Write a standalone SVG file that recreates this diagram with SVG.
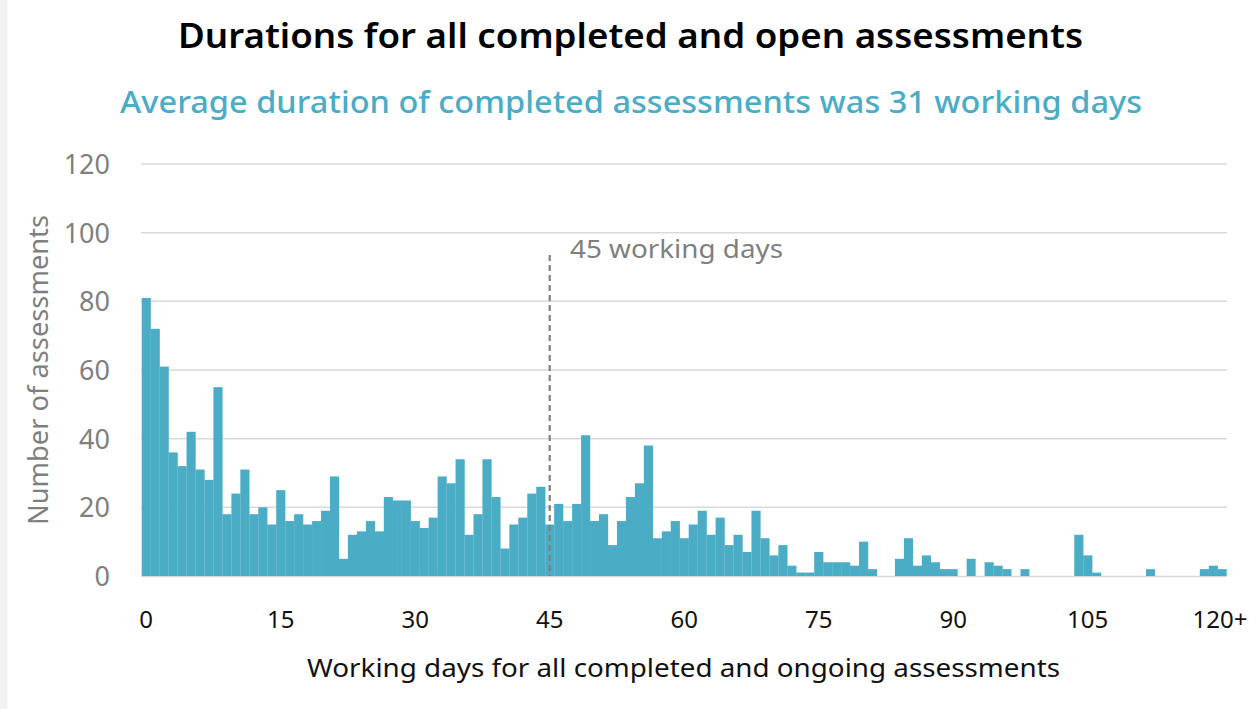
<svg xmlns="http://www.w3.org/2000/svg" width="1256" height="709" viewBox="0 0 1256 709">
<style>
.grid{stroke:#d9d9d9;stroke-width:1.5;fill:none}
.bar{fill:#4bacc6}
.yt{font-family:"Noto Sans","Open Sans","Liberation Sans",sans-serif;font-size:27px;fill:#7f7f7f;text-anchor:end}
.xt{font-family:"Noto Sans","Open Sans","Liberation Sans",sans-serif;font-size:24px;fill:#111;text-anchor:middle}
.title{font-family:"Noto Sans","Open Sans","Liberation Sans",sans-serif;font-size:34px;font-weight:600;fill:#000}
.sub{font-family:"Noto Sans","Open Sans","Liberation Sans",sans-serif;font-size:30px;font-weight:500;fill:#4bacc6}
.axt{font-family:"Noto Sans","Open Sans","Liberation Sans",sans-serif;font-size:25px;fill:#111}
.yaxt{font-family:"Noto Sans","Open Sans","Liberation Sans",sans-serif;font-size:27px;fill:#7f7f7f}
.ann{font-family:"Noto Sans","Open Sans","Liberation Sans",sans-serif;font-size:25px;fill:#7f7f7f}
</style>
<rect x="0" y="0" width="1256" height="709" fill="#ffffff"/>
<rect x="0" y="0" width="7.5" height="709" fill="#f2f2f2"/>
<g id="titles">
<text class="title" x="178" y="48" textLength="905" lengthAdjust="spacingAndGlyphs">Durations for all completed and open assessments</text>
<text class="sub" x="120" y="113" textLength="1022" lengthAdjust="spacingAndGlyphs">Average duration of completed assessments was 31 working days</text>
</g>
<g id="gridlines">
<line class="grid" x1="141" y1="164" x2="1227" y2="164"/>
<line class="grid" x1="141" y1="232.7" x2="1227" y2="232.7"/>
<line class="grid" x1="141" y1="301.3" x2="1227" y2="301.3"/>
<line class="grid" x1="141" y1="370" x2="1227" y2="370"/>
<line class="grid" x1="141" y1="438.7" x2="1227" y2="438.7"/>
<line class="grid" x1="141" y1="507.3" x2="1227" y2="507.3"/>
<line class="grid" x1="141" y1="576.5" x2="1227" y2="576.5"/>
</g>
<g id="y-ticks">
<text class="yt" x="110" y="174">120</text>
<text class="yt" x="110" y="242.7">100</text>
<text class="yt" x="110" y="311.3">80</text>
<text class="yt" x="110" y="380">60</text>
<text class="yt" x="110" y="448.7">40</text>
<text class="yt" x="110" y="517.3">20</text>
<text class="yt" x="110" y="586">0</text>
</g>
<text id="y-title" class="yaxt" transform="translate(48,370) rotate(-90)" text-anchor="middle" textLength="310" lengthAdjust="spacingAndGlyphs">Number of assessments</text>
<g id="bars" transform="translate(141.7,576) scale(8.967,-3.4333)">
<rect class="bar" x="0" y="0" width="1.02" height="81"/>
<rect class="bar" x="1" y="0" width="1.02" height="72"/>
<rect class="bar" x="2" y="0" width="1.02" height="61"/>
<rect class="bar" x="3" y="0" width="1.02" height="36"/>
<rect class="bar" x="4" y="0" width="1.02" height="32"/>
<rect class="bar" x="5" y="0" width="1.02" height="42"/>
<rect class="bar" x="6" y="0" width="1.02" height="31"/>
<rect class="bar" x="7" y="0" width="1.02" height="28"/>
<rect class="bar" x="8" y="0" width="1.02" height="55"/>
<rect class="bar" x="9" y="0" width="1.02" height="18"/>
<rect class="bar" x="10" y="0" width="1.02" height="24"/>
<rect class="bar" x="11" y="0" width="1.02" height="31"/>
<rect class="bar" x="12" y="0" width="1.02" height="18"/>
<rect class="bar" x="13" y="0" width="1.02" height="20"/>
<rect class="bar" x="14" y="0" width="1.02" height="15"/>
<rect class="bar" x="15" y="0" width="1.02" height="25"/>
<rect class="bar" x="16" y="0" width="1.02" height="16"/>
<rect class="bar" x="17" y="0" width="1.02" height="18"/>
<rect class="bar" x="18" y="0" width="1.02" height="15"/>
<rect class="bar" x="19" y="0" width="1.02" height="16"/>
<rect class="bar" x="20" y="0" width="1.02" height="19"/>
<rect class="bar" x="21" y="0" width="1.02" height="29"/>
<rect class="bar" x="22" y="0" width="1.02" height="5"/>
<rect class="bar" x="23" y="0" width="1.02" height="12"/>
<rect class="bar" x="24" y="0" width="1.02" height="13"/>
<rect class="bar" x="25" y="0" width="1.02" height="16"/>
<rect class="bar" x="26" y="0" width="1.02" height="13"/>
<rect class="bar" x="27" y="0" width="1.02" height="23"/>
<rect class="bar" x="28" y="0" width="1.02" height="22"/>
<rect class="bar" x="29" y="0" width="1.02" height="22"/>
<rect class="bar" x="30" y="0" width="1.02" height="16"/>
<rect class="bar" x="31" y="0" width="1.02" height="14"/>
<rect class="bar" x="32" y="0" width="1.02" height="17"/>
<rect class="bar" x="33" y="0" width="1.02" height="29"/>
<rect class="bar" x="34" y="0" width="1.02" height="27"/>
<rect class="bar" x="35" y="0" width="1.02" height="34"/>
<rect class="bar" x="36" y="0" width="1.02" height="12"/>
<rect class="bar" x="37" y="0" width="1.02" height="18"/>
<rect class="bar" x="38" y="0" width="1.02" height="34"/>
<rect class="bar" x="39" y="0" width="1.02" height="23"/>
<rect class="bar" x="40" y="0" width="1.02" height="8"/>
<rect class="bar" x="41" y="0" width="1.02" height="15"/>
<rect class="bar" x="42" y="0" width="1.02" height="17"/>
<rect class="bar" x="43" y="0" width="1.02" height="24"/>
<rect class="bar" x="44" y="0" width="1.02" height="26"/>
<rect class="bar" x="45" y="0" width="1.02" height="15"/>
<rect class="bar" x="46" y="0" width="1.02" height="21"/>
<rect class="bar" x="47" y="0" width="1.02" height="16"/>
<rect class="bar" x="48" y="0" width="1.02" height="21"/>
<rect class="bar" x="49" y="0" width="1.02" height="41"/>
<rect class="bar" x="50" y="0" width="1.02" height="16"/>
<rect class="bar" x="51" y="0" width="1.02" height="18"/>
<rect class="bar" x="52" y="0" width="1.02" height="9"/>
<rect class="bar" x="53" y="0" width="1.02" height="16"/>
<rect class="bar" x="54" y="0" width="1.02" height="23"/>
<rect class="bar" x="55" y="0" width="1.02" height="27"/>
<rect class="bar" x="56" y="0" width="1.02" height="38"/>
<rect class="bar" x="57" y="0" width="1.02" height="11"/>
<rect class="bar" x="58" y="0" width="1.02" height="13"/>
<rect class="bar" x="59" y="0" width="1.02" height="16"/>
<rect class="bar" x="60" y="0" width="1.02" height="11"/>
<rect class="bar" x="61" y="0" width="1.02" height="15"/>
<rect class="bar" x="62" y="0" width="1.02" height="19"/>
<rect class="bar" x="63" y="0" width="1.02" height="12"/>
<rect class="bar" x="64" y="0" width="1.02" height="17"/>
<rect class="bar" x="65" y="0" width="1.02" height="9"/>
<rect class="bar" x="66" y="0" width="1.02" height="12"/>
<rect class="bar" x="67" y="0" width="1.02" height="7"/>
<rect class="bar" x="68" y="0" width="1.02" height="19"/>
<rect class="bar" x="69" y="0" width="1.02" height="11"/>
<rect class="bar" x="70" y="0" width="1.02" height="6"/>
<rect class="bar" x="71" y="0" width="1.02" height="9"/>
<rect class="bar" x="72" y="0" width="1.02" height="3"/>
<rect class="bar" x="73" y="0" width="1.02" height="1"/>
<rect class="bar" x="74" y="0" width="1.02" height="1"/>
<rect class="bar" x="75" y="0" width="1.02" height="7"/>
<rect class="bar" x="76" y="0" width="1.02" height="4"/>
<rect class="bar" x="77" y="0" width="1.02" height="4"/>
<rect class="bar" x="78" y="0" width="1.02" height="4"/>
<rect class="bar" x="79" y="0" width="1.02" height="3"/>
<rect class="bar" x="80" y="0" width="1.02" height="10"/>
<rect class="bar" x="81" y="0" width="1" height="2"/>
<rect class="bar" x="84" y="0" width="1.02" height="5"/>
<rect class="bar" x="85" y="0" width="1.02" height="11"/>
<rect class="bar" x="86" y="0" width="1.02" height="3"/>
<rect class="bar" x="87" y="0" width="1.02" height="6"/>
<rect class="bar" x="88" y="0" width="1.02" height="4"/>
<rect class="bar" x="89" y="0" width="1.02" height="2"/>
<rect class="bar" x="90" y="0" width="1" height="2"/>
<rect class="bar" x="92" y="0" width="1" height="5"/>
<rect class="bar" x="94" y="0" width="1.02" height="4"/>
<rect class="bar" x="95" y="0" width="1.02" height="3"/>
<rect class="bar" x="96" y="0" width="1" height="2"/>
<rect class="bar" x="98" y="0" width="1" height="2"/>
<rect class="bar" x="104" y="0" width="1.02" height="12"/>
<rect class="bar" x="105" y="0" width="1.02" height="6"/>
<rect class="bar" x="106" y="0" width="1" height="1"/>
<rect class="bar" x="112" y="0" width="1" height="2"/>
<rect class="bar" x="118" y="0" width="1.02" height="2"/>
<rect class="bar" x="119" y="0" width="1.02" height="3"/>
<rect class="bar" x="120" y="0" width="1" height="2"/>
</g>
<g id="marker-45">
<line x1="549.7" y1="255" x2="549.7" y2="576" stroke="#7f7f7f" stroke-width="2.2" stroke-dasharray="6 4"/>
<text class="ann" x="570" y="258" textLength="213" lengthAdjust="spacingAndGlyphs">45 working days</text>
</g>
<g id="x-ticks">
<text class="xt" x="146.2" y="628">0</text>
<text class="xt" x="280.7" y="628">15</text>
<text class="xt" x="415.2" y="628">30</text>
<text class="xt" x="549.7" y="628">45</text>
<text class="xt" x="684.2" y="628">60</text>
<text class="xt" x="818.7" y="628">75</text>
<text class="xt" x="953.2" y="628">90</text>
<text class="xt" x="1087.7" y="628">105</text>
<text class="xt" x="1220" y="628">120+</text>
</g>
<text id="x-title" class="axt" x="683.5" y="677" text-anchor="middle" textLength="753" lengthAdjust="spacingAndGlyphs">Working days for all completed and ongoing assessments</text>
</svg>
